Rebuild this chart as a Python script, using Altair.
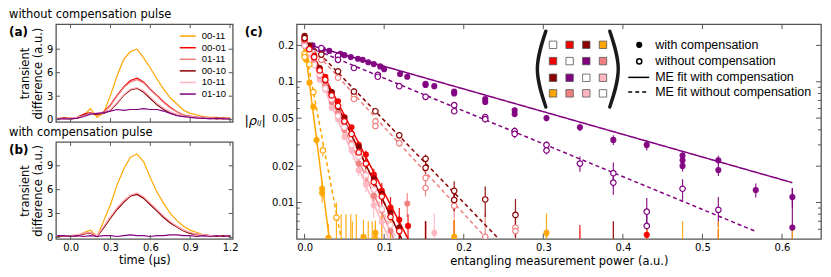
import altair as alt
import pandas as pd

# ------------------------------------------------------------------ data
SERIES = ["00-11", "00-01", "01-11", "00-10", "10-11", "01-10"]
COLORS = ["#FFA500", "#F20000", "#F08080", "#8B0000", "#FFB6C1", "#800080"]

T = [-0.1, -0.05, 0.0, 0.05, 0.1, 0.15, 0.2, 0.25, 0.3, 0.35, 0.4, 0.45, 0.5,
     0.55, 0.6, 0.65, 0.7, 0.75, 0.8, 0.85, 0.9, 0.95, 1.0, 1.05, 1.1, 1.15, 1.2]

# panel (a): without compensation pulse
A_0011 = [0.1, 0.2, 0.1, 0.3, 0.6, 1.4, 0.3, 0.9, 3.1, 5.6, 7.7, 8.7, 9.0, 7.9, 6.6, 5.2, 3.9, 2.8, 2.0, 1.2, 0.8, 0.6, 0.4, 0.3, 0.3, 0.2, 0.2]
A_0001 = [0.1, 0.2, 0.2, 0.3, 0.7, 0.9, 0.6, 1.0, 1.9, 3.1, 4.2, 5.0, 5.3, 4.8, 3.9, 3.1, 2.3, 1.6, 1.0, 0.6, 0.4, 0.3, 0.3, 0.2, 0.2, 0.1, 0.2]
A_0111 = [0.2, 0.1, 0.2, 0.2, 0.6, 0.8, 0.7, 0.9, 1.8, 3.0, 4.1, 4.8, 5.1, 4.7, 3.8, 3.0, 2.2, 1.5, 1.0, 0.6, 0.5, 0.3, 0.2, 0.2, 0.1, 0.2, 0.1]
A_0010 = [0.1, 0.2, 0.1, 0.2, 0.6, 0.8, 0.7, 0.8, 1.2, 2.1, 3.1, 3.8, 4.0, 3.5, 2.7, 1.9, 1.3, 0.9, 0.6, 0.5, 0.4, 0.3, 0.2, 0.2, 0.1, 0.2, 0.1]
A_1011 = [0.2, 0.1, 0.2, 0.3, 0.5, 0.8, 0.8, 0.9, 1.3, 2.2, 3.2, 3.9, 4.1, 3.7, 2.9, 2.1, 1.5, 1.0, 0.7, 0.5, 0.4, 0.3, 0.3, 0.2, 0.2, 0.1, 0.2]
A_0110 = [0.1, 0.1, 0.1, 0.2, 0.4, 0.7, 0.8, 0.9, 1.1, 1.3, 1.2, 1.3, 1.3, 1.4, 1.3, 1.3, 1.1, 0.8, 0.5, 0.4, 0.3, 0.2, 0.2, 0.1, 0.2, 0.1, 0.1]

# panel (b): with compensation pulse
B_0011 = [0.1, 0.1, 0.2, 0.2, 0.6, 0.9, 0.1, 2.1, 4.1, 6.6, 8.6, 10.1, 10.5, 9.5, 7.5, 5.7, 4.3, 3.0, 2.1, 1.4, 0.9, 0.6, 0.3, 0.2, 0.2, 0.1, 0.1]
B_0001 = [0.1, 0.1, 0.2, 0.2, 0.5, 0.5, 0.1, 1.3, 2.5, 3.6, 4.5, 5.2, 5.5, 5.0, 4.2, 3.4, 2.6, 1.9, 1.4, 0.9, 0.5, 0.3, 0.3, 0.2, 0.2, 0.1, 0.2]
B_0111 = [0.2, 0.1, 0.2, 0.3, 0.5, 0.6, 0.2, 1.3, 2.5, 3.7, 4.6, 5.3, 5.5, 5.0, 4.2, 3.4, 2.6, 1.9, 1.3, 0.9, 0.6, 0.3, 0.3, 0.2, 0.2, 0.2, 0.1]
B_0010 = [0.1, 0.2, 0.1, 0.2, 0.4, 0.6, 0.1, 1.2, 2.4, 3.5, 4.4, 5.2, 5.4, 4.9, 4.1, 3.3, 2.5, 1.8, 1.3, 0.8, 0.5, 0.4, 0.2, 0.2, 0.1, 0.2, 0.1]
B_1011 = [0.2, 0.2, 0.1, 0.3, 0.5, 0.6, 0.2, 1.4, 2.6, 3.7, 4.6, 5.3, 5.6, 5.1, 4.3, 3.5, 2.7, 2.0, 1.4, 0.9, 0.6, 0.4, 0.3, 0.2, 0.2, 0.1, 0.2]
B_0110 = [0.2, 0.2, 0.1, 0.2, 0.1, 0.2, 0.1, 0.2, 0.2, 0.1, 0.2, 0.3, 0.2, 0.2, 0.1, 0.2, 0.2, 0.3, 0.3, 0.2, 0.2, 0.1, 0.2, 0.1, 0.2, 0.1, 0.2]

# panel (c): |rho_ij| vs measurement power  (W = with, O = without compensation)
XS = [0.0, 0.006, 0.012, 0.019, 0.026, 0.034, 0.042, 0.050, 0.059, 0.068, 0.077, 0.087, 0.097, 0.108, 0.119, 0.130]

C_0001_W_X = XS + [0.152, 0.188, 0.346, 0.43, 0.52]
C_0001_W_Y = [0.235, 0.19, 0.165, 0.128, 0.11, 0.082, 0.069, 0.051, 0.042, 0.030, 0.025, 0.017, 0.0125, 0.0091, 0.0072, 0.0064, 0.004, 0.0042, 0.003, 0.0054, 0.003]
C_0001_W_E = [0.004, 0.004, 0.004, 0.004, 0.003, 0.003, 0.003, 0.003, 0.002, 0.002, 0.002, 0.002, 0.002, 0.002, 0.0018, 0.0016, 0.003, 0.003, 0.0035, 0.001, 0.003]
C_0001_O_X = XS[:15] + [0.152]
C_0001_O_Y = [0.225, 0.186, 0.16, 0.124, 0.104, 0.077, 0.063, 0.047, 0.037, 0.026, 0.021, 0.0148, 0.0112, 0.0076, 0.0058, 0.004]
C_0001_O_E = [0.004, 0.004, 0.003, 0.003, 0.003, 0.003, 0.002, 0.002, 0.002, 0.002, 0.002, 0.0015, 0.0015, 0.0012, 0.0012, 0.003]

C_0010_W_X = XS[:15] + [0.152, 0.388]
C_0010_W_Y = [0.24, 0.2, 0.162, 0.13, 0.103, 0.082, 0.062, 0.05, 0.037, 0.029, 0.021, 0.0158, 0.0118, 0.0082, 0.0062, 0.004, 0.004]
C_0010_W_E = [0.004, 0.004, 0.004, 0.003, 0.003, 0.003, 0.003, 0.002, 0.002, 0.002, 0.002, 0.002, 0.0015, 0.0015, 0.0015, 0.003, 0.003]
C_0010_O_X = [0.0, 0.021, 0.042, 0.062, 0.089, 0.119, 0.152, 0.152, 0.188, 0.188, 0.227, 0.265]
C_0010_O_Y = [0.23, 0.168, 0.122, 0.083, 0.057, 0.036, 0.023, 0.0194, 0.0125, 0.0105, 0.0106, 0.0079]
C_0010_O_E = [0.004, 0.004, 0.003, 0.003, 0.003, 0.002, 0.002, 0.002, 0.0025, 0.002, 0.003, 0.0028]

C_0111_W_X = XS[:14] + [0.129, 0.152, 0.188, 0.304, 0.52]
C_0111_W_Y = [0.215, 0.178, 0.15, 0.112, 0.094, 0.068, 0.055, 0.040, 0.031, 0.021, 0.0168, 0.0114, 0.0086, 0.0058, 0.0098, 0.004, 0.004, 0.003, 0.003]
C_0111_W_E = [0.004, 0.004, 0.003, 0.003, 0.003, 0.003, 0.002, 0.002, 0.002, 0.002, 0.002, 0.002, 0.0018, 0.0016, 0.0022, 0.003, 0.003, 0.003, 0.003]
C_0111_O_X = [0.0, 0.021, 0.042, 0.062, 0.062, 0.089, 0.089, 0.119, 0.152, 0.152, 0.188, 0.188, 0.227, 0.265, 0.265]
C_0111_O_Y = [0.22, 0.152, 0.108, 0.078, 0.072, 0.047, 0.043, 0.031, 0.016, 0.0132, 0.0104, 0.0094, 0.0052, 0.0062, 0.0058]
C_0111_O_E = [0.004, 0.004, 0.003, 0.003, 0.003, 0.002, 0.002, 0.002, 0.002, 0.002, 0.002, 0.002, 0.003, 0.002, 0.002]

C_1011_W_X = XS[:13] + [0.163, 0.346, 0.388]
C_1011_W_Y = [0.205, 0.168, 0.14, 0.104, 0.086, 0.061, 0.049, 0.035, 0.027, 0.0185, 0.0142, 0.0095, 0.0069, 0.0056, 0.003, 0.004]
C_1011_W_E = [0.004, 0.004, 0.003, 0.003, 0.003, 0.003, 0.002, 0.002, 0.002, 0.002, 0.002, 0.002, 0.002, 0.0025, 0.003, 0.003]
C_1011_O_X = XS[:14]
C_1011_O_Y = [0.2, 0.175, 0.138, 0.115, 0.088, 0.072, 0.052, 0.042, 0.030, 0.024, 0.0168, 0.0128, 0.0088, 0.0065]
C_1011_O_E = [0.004, 0.004, 0.003, 0.003, 0.003, 0.003, 0.002, 0.002, 0.002, 0.002, 0.002, 0.0015, 0.0015, 0.0015]

C_0011_W_X = [0.002, 0.002, 0.006, 0.011, 0.015, 0.022, 0.022, 0.030, 0.046, 0.052, 0.058, 0.065, 0.074, 0.080, 0.089, 0.089, 0.097, 0.108, 0.188, 0.304, 0.475, 0.52, 0.567, 0.613]
C_0011_W_Y = [0.186, 0.152, 0.098, 0.062, 0.033, 0.013, 0.012, 0.0051, 0.003, 0.004, 0.003, 0.004, 0.0052, 0.003, 0.0056, 0.005, 0.004, 0.003, 0.0052, 0.0056, 0.003, 0.003, 0.002, 0.003]
C_0011_W_E = [0.004, 0.004, 0.004, 0.004, 0.003, 0.002, 0.002, 0.0015, 0.005, 0.004, 0.005, 0.004, 0.002, 0.004, 0.0015, 0.0015, 0.004, 0.005, 0.002, 0.0025, 0.004, 0.004, 0.003, 0.003]
C_0011_O_X = [0.0, 0.0, 0.006, 0.011, 0.023, 0.040, 0.060, 0.085, 0.43]
C_0011_O_Y = [0.17, 0.16, 0.139, 0.082, 0.027, 0.0075, 0.003, 0.003, 0.003]
C_0011_O_E = [0.004, 0.004, 0.004, 0.004, 0.003, 0.0025, 0.004, 0.004, 0.003]

C_0110_W_X = [0.0, 0.01, 0.023, 0.031, 0.045, 0.05, 0.058, 0.067, 0.073, 0.08, 0.087, 0.095, 0.1, 0.12, 0.129, 0.152, 0.152, 0.163, 0.188, 0.188, 0.227, 0.227, 0.264, 0.264, 0.304, 0.346, 0.388, 0.43, 0.475, 0.475, 0.475, 0.52, 0.52, 0.567, 0.613, 0.613]
C_0110_W_Y = [0.21, 0.2, 0.185, 0.18, 0.17, 0.166, 0.16, 0.155, 0.152, 0.145, 0.14, 0.134, 0.127, 0.116, 0.11, 0.096, 0.094, 0.092, 0.083, 0.08, 0.072, 0.068, 0.058, 0.054, 0.05, 0.042, 0.033, 0.030, 0.0245, 0.0224, 0.0201, 0.0224, 0.0186, 0.0127, 0.0111, 0.0062]
C_0110_W_E = [0.003] * 28 + [0.002, 0.002, 0.002, 0.002, 0.002, 0.0017, 0.002, 0.007]
C_0110_O_X = [0.0, 0.021, 0.042, 0.042, 0.062, 0.092, 0.092, 0.119, 0.152, 0.188, 0.188, 0.227, 0.227, 0.264, 0.264, 0.304, 0.304, 0.346, 0.388, 0.388, 0.43, 0.43, 0.475, 0.52]
C_0110_O_Y = [0.2, 0.19, 0.164, 0.152, 0.13, 0.114, 0.11, 0.092, 0.075, 0.064, 0.057, 0.051, 0.049, 0.039, 0.037, 0.030, 0.027, 0.021, 0.0175, 0.0146, 0.0084, 0.0064, 0.013, 0.0087]
C_0110_O_E = [0.003] * 15 + [0.002, 0.002, 0.003, 0.004, 0.003, 0.0025, 0.0015, 0.0026, 0.0024]

# maximum-entropy fit lines (start / end points)
FIT_S = ["00-01", "00-01", "00-10", "00-10", "01-11", "01-11", "10-11", "10-11", "00-11", "00-11", "01-10", "01-10"]
FIT_C = ["with", "without"] * 6
FIT_X0 = [0.0] * 12
FIT_Y0 = [0.23, 0.23, 0.23, 0.23, 0.22, 0.22, 0.21, 0.21, 0.2, 0.2, 0.207, 0.2]
FIT_X1 = [0.130, 0.122, 0.122, 0.244, 0.112, 0.229, 0.106, 0.115, 0.031, 0.046, 0.613, 0.566]
FIT_Y1 = [0.005, 0.005, 0.005, 0.005, 0.005, 0.005, 0.005, 0.005, 0.005, 0.005, 0.0146, 0.0058]

MATRIX = [["white", "00-01", "00-10", "00-11"],
          ["00-01", "white", "01-10", "01-11"],
          ["00-10", "01-10", "white", "10-11"],
          ["00-11", "01-11", "10-11", "white"]]
LEG_C_TEXT = ["with compensation", "without compensation", "ME fit with compensation", "ME fit without compensation"]

# ------------------------------------------------------------------ frames
GRAY = "#555555"
CMAP = dict(zip(SERIES, COLORS))
CSCALE = alt.Scale(domain=SERIES, range=COLORS)


def traces(lists):
    rows = []
    for s, vals in zip(SERIES, lists):
        for t, v in zip(T, vals):
            rows.append({"s": s, "t": t, "v": v})
    return pd.DataFrame(rows)


df_a = traces([A_0011, A_0001, A_0111, A_0010, A_1011, A_0110])
df_b = traces([B_0011, B_0001, B_0111, B_0010, B_1011, B_0110])

pts = []
def add(s, comp, xs, ys, es):
    for x, y, e in zip(xs, ys, es):
        pts.append({"s": s, "comp": comp, "x": x, "y": y, "lo": max(y - e, 0.001), "hi": y + e})

add("01-10", "with", C_0110_W_X, C_0110_W_Y, C_0110_W_E)
add("01-10", "without", C_0110_O_X, C_0110_O_Y, C_0110_O_E)
add("10-11", "with", C_1011_W_X, C_1011_W_Y, C_1011_W_E)
add("10-11", "without", C_1011_O_X, C_1011_O_Y, C_1011_O_E)
add("01-11", "with", C_0111_W_X, C_0111_W_Y, C_0111_W_E)
add("01-11", "without", C_0111_O_X, C_0111_O_Y, C_0111_O_E)
add("00-01", "with", C_0001_W_X, C_0001_W_Y, C_0001_W_E)
add("00-01", "without", C_0001_O_X, C_0001_O_Y, C_0001_O_E)
add("00-10", "with", C_0010_W_X, C_0010_W_Y, C_0010_W_E)
add("00-10", "without", C_0010_O_X, C_0010_O_Y, C_0010_O_E)
add("00-11", "with", C_0011_W_X, C_0011_W_Y, C_0011_W_E)
add("00-11", "without", C_0011_O_X, C_0011_O_Y, C_0011_O_E)
df_c = pd.DataFrame(pts)

fit_rows = []
for i, (s, c, x0, y0, x1, y1) in enumerate(zip(FIT_S, FIT_C, FIT_X0, FIT_Y0, FIT_X1, FIT_Y1)):
    fit_rows.append({"id": i, "s": s, "comp": c, "x": x0, "y": y0})
    fit_rows.append({"id": i, "s": s, "comp": c, "x": x1, "y": y1})
df_fit = pd.DataFrame(fit_rows)

# ------------------------------------------------------------------ panels (a), (b)
W_AB, H_A, H_B = 177, 98, 97
XSC_T = alt.Scale(domain=[-0.11, 1.22], nice=False, zero=False)
YSC_A = alt.Scale(domain=[-0.3, 12.2], nice=False, zero=False)
YSC_B = alt.Scale(domain=[-0.2, 12.0], nice=False, zero=False)
TTICKS = [0.0, 0.3, 0.6, 0.9, 1.2]
VTICKS = [0, 3, 6, 9]

YAX_AB = alt.Axis(values=VTICKS, ticks=False, domain=False, grid=False, labelPadding=3,
                  title=["transient", "difference (a.u.)"], titlePadding=3)
XAX_B = alt.Axis(values=TTICKS, format=".1f", ticks=False, domain=False, grid=False,
                 labelPadding=4, title="time (μs)", titlePadding=2)


def trace_panel(df, ysc, h, xax, title, tag, with_legend):
    X = alt.X("t:Q", scale=XSC_T, axis=xax)
    Y = alt.Y("v:Q", scale=ysc, axis=YAX_AB)
    lines = alt.Chart(df).mark_line(strokeWidth=1.2, clip=True).encode(
        x=X, y=Y, color=alt.Color("s:N", scale=CSCALE, legend=None))
    tdf = pd.DataFrame({"t": TTICKS})
    vdf = pd.DataFrame({"v": VTICKS})
    tk = dict(color=GRAY, strokeWidth=1)
    layers = [lines,
              alt.Chart(vdf).mark_rule(**tk).encode(y=Y, x=alt.value(0), x2=alt.value(4)),
              alt.Chart(vdf).mark_rule(**tk).encode(y=Y, x=alt.value(W_AB), x2=alt.value(W_AB - 4)),
              alt.Chart(tdf).mark_rule(**tk).encode(x=X, y=alt.value(h), y2=alt.value(h - 4)),
              alt.Chart(tdf).mark_rule(**tk).encode(x=X, y=alt.value(0), y2=alt.value(4)),
              alt.Chart(pd.DataFrame({"l": [tag]})).mark_text(
                  align="left", baseline="middle", fontWeight="bold", fontSize=12).encode(
                  x=alt.value(-47), y=alt.value(8), text="l:N")]
    if with_legend:
        leg = pd.DataFrame({"s": SERIES, "ly": [12 + i * 11.6 for i in range(len(SERIES))]})
        layers.append(alt.Chart(leg).mark_rule(strokeWidth=1.5).encode(
            x=alt.value(124), x2=alt.value(140), y=alt.Y("ly:Q", scale=None),
            color=alt.Color("s:N", scale=CSCALE, legend=None)))
        layers.append(alt.Chart(leg).mark_text(align="left", baseline="middle",
                                               font="Liberation Sans", fontSize=9.5).encode(
            x=alt.value(146), y=alt.Y("ly:Q", scale=None), text="s:N"))
    return alt.layer(*layers).properties(
        width=W_AB, height=h,
        title=alt.TitleParams(title, anchor="start", fontSize=11.5, fontWeight="normal", offset=3))


chart_a = trace_panel(df_a, YSC_A, H_A, None, "without compensation pulse", "(a)", True)
chart_b = trace_panel(df_b, YSC_B, H_B, XAX_B, "with compensation pulse", "(b)", False)

# ------------------------------------------------------------------ panel (c)
W_C, H_C = 525, 215
XSC_C = alt.Scale(domain=[-0.01, 0.649], nice=False, zero=False)
YSC_C = alt.Scale(type="log", domain=[0.005, 0.3], nice=False)
XT_C = [0.0, 0.1, 0.2, 0.3, 0.4, 0.5, 0.6]
YT_MAJ = [0.01, 0.02, 0.05, 0.1, 0.2]
YT_MIN = [0.006, 0.007, 0.008, 0.009, 0.03, 0.04, 0.06, 0.07, 0.08, 0.09]

XAX_C = alt.Axis(values=XT_C, format=".1f", ticks=False, domain=False, grid=False,
                 labelPadding=4, title="entangling measurement power (a.u.)", titlePadding=3)
YAX_C = alt.Axis(values=YT_MAJ, format="~g", ticks=False, domain=False, grid=False,
                 labelPadding=3, title="|ρᵢⱼ|", titleAngle=0, titleX=-42, titleY=96,
                 titleAlign="center", titleBaseline="middle", titleFontSize=13,
                 titleFontStyle="italic")
XC = alt.X("x:Q", scale=XSC_C, axis=XAX_C)
COL = alt.Color("s:N", scale=CSCALE, legend=None)

errbars = alt.Chart(df_c).mark_rule(strokeWidth=1.2, clip=True, opacity=0.9).encode(
    x=XC, y=alt.Y("lo:Q", scale=YSC_C, axis=YAX_C), y2="hi:Q", color=COL)
fits = alt.Chart(df_fit).mark_line(strokeWidth=1.5, clip=True).encode(
    x=XC, y=alt.Y("y:Q", scale=YSC_C, axis=YAX_C), color=COL, detail="id:N",
    strokeDash=alt.StrokeDash("comp:N", scale=alt.Scale(domain=["with", "without"],
                                                        range=[[1, 0], [4, 3]]), legend=None))
filled = alt.Chart(df_c[df_c["comp"] == "with"]).mark_circle(size=38, opacity=0.95, clip=True).encode(
    x=XC, y=alt.Y("y:Q", scale=YSC_C, axis=YAX_C), color=COL)
hollow = alt.Chart(df_c[df_c["comp"] == "without"]).mark_point(
    shape="circle", size=30, filled=False, fill="white", fillOpacity=1, strokeWidth=1.2,
    opacity=1, clip=True).encode(x=XC, y=alt.Y("y:Q", scale=YSC_C, axis=YAX_C), color=COL)

tk = dict(color=GRAY, strokeWidth=1)
YC = alt.Y("v:Q", scale=YSC_C, axis=YAX_C)
XCt = alt.X("t:Q", scale=XSC_C, axis=XAX_C)
ymaj = pd.DataFrame({"v": YT_MAJ})
ymin = pd.DataFrame({"v": YT_MIN})
xtd = pd.DataFrame({"t": XT_C})
tick_layers = [
    alt.Chart(ymaj).mark_rule(**tk).encode(y=YC, x=alt.value(0), x2=alt.value(5)),
    alt.Chart(ymaj).mark_rule(**tk).encode(y=YC, x=alt.value(W_C), x2=alt.value(W_C - 5)),
    alt.Chart(ymin).mark_rule(**tk).encode(y=YC, x=alt.value(0), x2=alt.value(3)),
    alt.Chart(ymin).mark_rule(**tk).encode(y=YC, x=alt.value(W_C), x2=alt.value(W_C - 3)),
    alt.Chart(xtd).mark_rule(**tk).encode(x=XCt, y=alt.value(H_C), y2=alt.value(H_C - 5)),
    alt.Chart(xtd).mark_rule(**tk).encode(x=XCt, y=alt.value(0), y2=alt.value(5)),
]

# legend (pixel layout inside the panel)
COLX = [256.7, 273.3, 290.0, 306.7]
ROWY = [20.7, 37.0, 53.7, 69.3]
sq_rows = []
for i, row in enumerate(MATRIX):
    for j, key in enumerate(row):
        sq_rows.append({"px": COLX[j], "py": ROWY[i], "c": "#FFFFFF" if key == "white" else CMAP[key]})
df_sq = pd.DataFrame(sq_rows)
squares = alt.Chart(df_sq).mark_square(size=55, stroke=GRAY, strokeWidth=0.8, opacity=1).encode(
    x=alt.X("px:Q", scale=None), y=alt.Y("py:Q", scale=None), fill=alt.Fill("c:N", scale=None))
df_par = pd.DataFrame({"side": ["l", "l", "l", "r", "r", "r"],
                       "k": [0, 1, 2, 0, 1, 2],
                       "px": [249.5, 241.0, 249.5, 313.5, 322.0, 313.5],
                       "py": [7, 45, 83, 7, 45, 83]})
parens = alt.Chart(df_par).mark_line(interpolate="natural", strokeWidth=3.4, color="#1a1a1a",
                                     strokeCap="round").encode(
    x=alt.X("px:Q", scale=None), y=alt.Y("py:Q", scale=None), detail="side:N",
    order=alt.Order("k:Q"))
one = pd.DataFrame({"a": [0]})
sym_filled = alt.Chart(one).mark_circle(size=38, color="black", opacity=1).encode(
    x=alt.value(343), y=alt.value(20.7))
sym_open = alt.Chart(one).mark_point(shape="circle", size=26, filled=False, color="black",
                                     strokeWidth=1.5, opacity=1).encode(x=alt.value(343), y=alt.value(37.3))
sym_solid = alt.Chart(one).mark_rule(color="black", strokeWidth=1.5).encode(
    x=alt.value(332), x2=alt.value(353), y=alt.value(53.3))
sym_dash = alt.Chart(one).mark_rule(color="black", strokeWidth=1.5, strokeDash=[4, 3]).encode(
    x=alt.value(332), x2=alt.value(353), y=alt.value(68))
df_lt = pd.DataFrame({"txt": LEG_C_TEXT, "py": [20.7, 37.3, 53.3, 68.0]})
leg_text = alt.Chart(df_lt).mark_text(align="left", baseline="middle", font="Liberation Sans",
                                      fontSize=12.5).encode(
    x=alt.value(359), y=alt.Y("py:Q", scale=None), text="txt:N")
tag_c = alt.Chart(pd.DataFrame({"l": ["(c)"]})).mark_text(
    align="left", baseline="middle", fontWeight="bold", fontSize=12).encode(
    x=alt.value(-52), y=alt.value(8), text="l:N")

chart_c = alt.layer(errbars, fits, filled, hollow, *tick_layers, squares, parens,
                    sym_filled, sym_open, sym_solid, sym_dash, leg_text, tag_c).properties(
    width=W_C, height=H_C,
    title=alt.TitleParams(" ", anchor="start", fontSize=11.5, fontWeight="normal", offset=3))

left = alt.vconcat(chart_a, chart_b, spacing=20, bounds="flush")
chart = alt.hconcat(left, chart_c, spacing=4).properties(
    padding={"left": 0, "top": 0, "right": 0, "bottom": 0}
).configure(font="DejaVu Sans").configure_view(
    stroke=GRAY, strokeWidth=1.3
).configure_axis(
    labelFont="DejaVu Sans", labelFontSize=10, labelColor="black",
    titleFont="DejaVu Sans", titleFontSize=11.5, titleFontWeight="normal", titleColor="black"
).configure_title(font="DejaVu Sans", color="black")

chart.save("out.html", embed_options={"renderer": "svg", "actions": False})
